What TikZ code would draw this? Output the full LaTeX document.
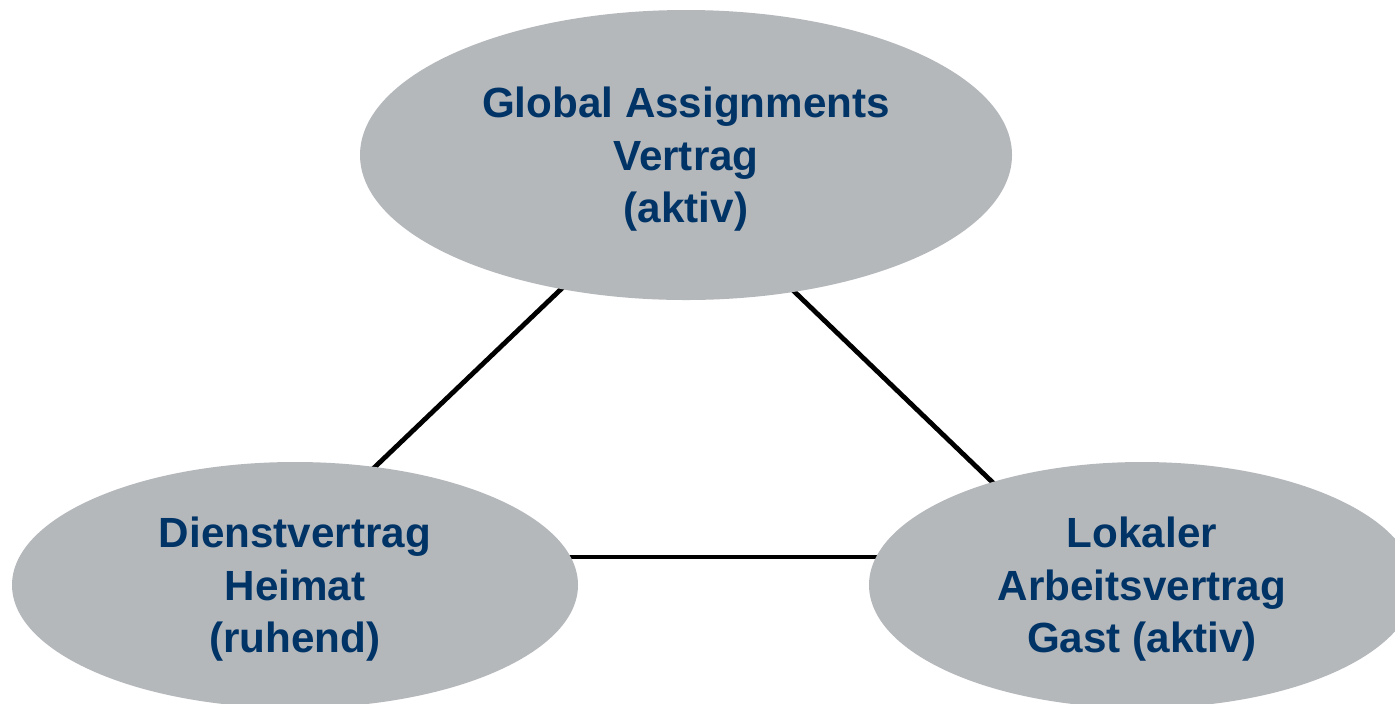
\documentclass[tikz,border=0pt]{standalone}
\usepackage{fontspec}
\setmainfont{Liberation Sans}
\usetikzlibrary{shapes.geometric,backgrounds}
\definecolor{ellgray}{RGB}{181,184,187}
\definecolor{navy}{RGB}{0,51,102}
\begin{document}
\begin{tikzpicture}[x=0.5pt,y=-0.5pt,
  contract/.style={ellipse, fill=ellgray, draw=none, inner sep=0pt, align=center,
    text depth=0pt,
    text=navy, font=\fontsize{21.1pt}{26.2pt}\selectfont\bfseries},
  link/.style={draw=black, line width=2.4pt}]
\clip (0,0) rectangle (1395,703);
\node[contract, minimum width=326pt, minimum height=145pt] (T) at (686,155)
  {Global Assignments\\Vertrag\\(aktiv)};
\node[contract, minimum width=283pt, minimum height=123pt] (L) at (295,585)
  {Dienstvertrag\\Heimat\\(ruhend)};
\node[contract, minimum width=273pt, minimum height=123pt] (R) at (1142,585)
  {Lokaler\\Arbeitsvertrag\\Gast (aktiv)};
\begin{scope}[on background layer]
\fill[white] (0,0) rectangle (1395,703);
\draw[link] ([shift={(-106,116)}]T.center) -- ([shift={(60,-99)}]L.center);
\draw[link] ([shift={(89,118)}]T.center) -- ([shift={(-129,-83)}]R.center);
\draw[link] ([shift={(245,-28)}]L.center) -- ([shift={(-242,-28)}]R.center);
\end{scope}
\end{tikzpicture}
\end{document}
